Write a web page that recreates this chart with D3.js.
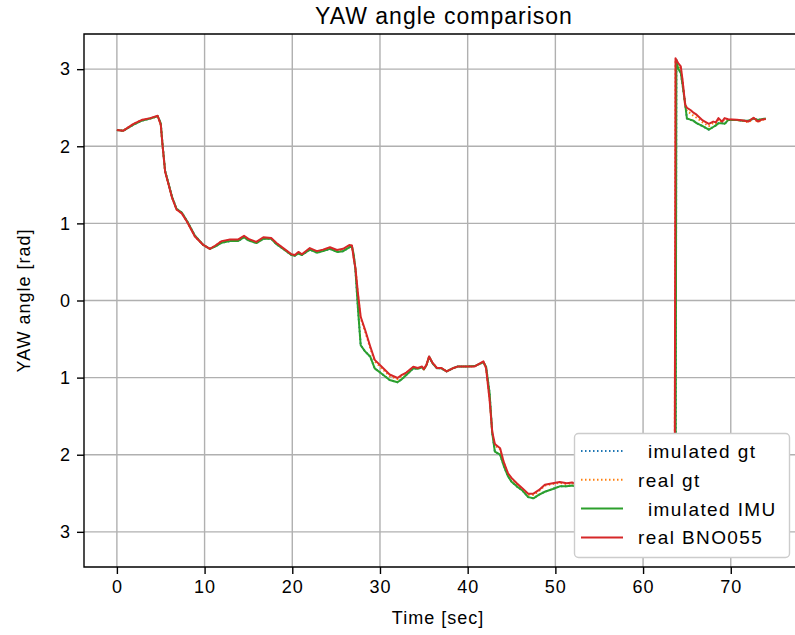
<!DOCTYPE html>
<html>
<head>
<meta charset="utf-8">
<script src="https://cdn.jsdelivr.net/npm/d3@7"></script>
<style>
    body { margin: 0; background: #fff; }
    svg { display: block; font-family: "Liberation Sans", Arial, sans-serif; }
</style>
</head>
<body>
<svg id="chart" width="795" height="635"></svg>
<script>
// time stamps [sec], shared by all four series
var time = [0, 0.7, 1.9, 2.8, 3.8, 4.65, 5.0, 5.2, 5.5, 5.9, 6.3, 6.8, 7.4, 8.0, 8.9, 9.85, 10.6, 11.2, 11.95, 12.9,
    13.8, 14.5, 15.0, 15.9, 16.7, 17.6, 18.2, 19.2, 19.9, 20.3, 20.7, 21.1, 22.0, 22.8, 23.5, 24.3, 25.1, 25.8, 26.5, 26.8,
    27.0, 27.2, 27.5, 27.8, 28.3, 28.9, 29.4, 30.2, 31.1, 32.0, 32.5, 33.0, 33.8, 34.3, 34.8, 35.0, 35.3, 35.6, 36.0, 36.5,
    37.0, 37.6, 38.4, 38.9, 39.9, 40.8, 41.8, 42.1, 42.5, 42.8, 43.1, 43.7, 44.1, 44.6, 45.0, 45.6, 46.2, 46.9, 47.5, 48.1,
    48.8, 49.7, 50.5, 51.3, 51.9, 53, 55, 57, 59, 61, 62.5, 63.6, 63.7, 63.8, 64.0, 64.3, 64.5, 64.8, 65.0, 65.4,
    65.7, 66.1, 66.8, 67.5, 68.0, 68.3, 68.6, 69.0, 69.3, 69.7, 70.7, 71.4, 72.0, 72.6, 73.1, 73.5, 74.0];

var simulatedGt = [2.21, 2.20, 2.28, 2.33, 2.36, 2.39, 2.30, 2.03, 1.68, 1.51, 1.34, 1.19, 1.14, 1.03, 0.84, 0.72, 0.67, 0.70, 0.75, 0.77,
    0.77, 0.82, 0.78, 0.745, 0.80, 0.80, 0.73, 0.65, 0.59, 0.58, 0.61, 0.59, 0.66, 0.62, 0.64, 0.67, 0.63, 0.64, 0.69, 0.70,
    0.60, 0.40, -0.12, -0.58, -0.66, -0.73, -0.88, -0.95, -1.03, -1.06, -1.02, -0.965, -0.88, -0.885, -0.865, -0.895, -0.84, -0.73, -0.815, -0.88,
    -0.88, -0.92, -0.875, -0.855, -0.855, -0.85, -0.80, -0.86, -1.20, -1.72, -1.96, -2.0, -2.14, -2.28, -2.35, -2.41, -2.46, -2.55, -2.565, -2.52,
    -2.48, -2.445, -2.41, -2.41, -2.40, -2.43, -2.5, -2.65, -2.8, -2.95, -3.05, -3.10, -3.13, 3.12, 3.01, 2.95, 2.80, 2.55, 2.36, 2.345,
    2.335, 2.30, 2.26, 2.215, 2.25, 2.27, 2.30, 2.30, 2.29, 2.34, 2.34, 2.33, 2.33, 2.36, 2.34, 2.35, 2.36];

var realGt = [2.21, 2.20, 2.29, 2.34, 2.36, 2.39, 2.28, 2.02, 1.67, 1.50, 1.33, 1.18, 1.13, 1.02, 0.83, 0.72, 0.67, 0.71, 0.77, 0.78,
    0.78, 0.83, 0.79, 0.75, 0.81, 0.80, 0.74, 0.655, 0.595, 0.585, 0.62, 0.595, 0.67, 0.63, 0.65, 0.68, 0.645, 0.66, 0.71, 0.71,
    0.56, 0.43, 0.06, -0.23, -0.40, -0.62, -0.79, -0.88, -0.98, -1.02, -0.975, -0.94, -0.865, -0.88, -0.86, -0.89, -0.835, -0.73, -0.81, -0.875,
    -0.875, -0.92, -0.875, -0.855, -0.855, -0.855, -0.795, -0.88, -1.27, -1.71, -1.88, -1.93, -2.10, -2.25, -2.31, -2.38, -2.44, -2.52, -2.52, -2.475,
    -2.40, -2.38, -2.365, -2.38, -2.37, -2.41, -2.46, -2.61, -2.76, -2.91, -3.01, -3.11, 3.13, 3.11, 3.06, 3.00, 2.84, 2.53, 2.45, 2.43,
    2.40, 2.37, 2.31, 2.26, 2.30, 2.29, 2.35, 2.31, 2.35, 2.345, 2.34, 2.33, 2.31, 2.36, 2.31, 2.34, 2.35];

var simulatedImu = [2.21, 2.20, 2.28, 2.33, 2.36, 2.39, 2.30, 2.03, 1.68, 1.51, 1.34, 1.19, 1.14, 1.03, 0.84, 0.72, 0.67, 0.70, 0.75, 0.77,
    0.77, 0.82, 0.78, 0.745, 0.80, 0.80, 0.73, 0.65, 0.59, 0.58, 0.61, 0.59, 0.66, 0.62, 0.64, 0.67, 0.63, 0.64, 0.69, 0.70,
    0.60, 0.40, -0.12, -0.58, -0.66, -0.73, -0.88, -0.95, -1.03, -1.06, -1.02, -0.965, -0.88, -0.885, -0.865, -0.895, -0.84, -0.73, -0.815, -0.88,
    -0.88, -0.92, -0.875, -0.855, -0.855, -0.85, -0.80, -0.86, -1.20, -1.72, -1.96, -2.0, -2.14, -2.28, -2.35, -2.41, -2.46, -2.55, -2.565, -2.52,
    -2.48, -2.445, -2.41, -2.41, -2.40, -2.43, -2.5, -2.65, -2.8, -2.95, -3.05, -3.10, -3.13, 3.12, 3.01, 2.95, 2.80, 2.55, 2.36, 2.345,
    2.335, 2.30, 2.26, 2.215, 2.25, 2.27, 2.30, 2.30, 2.29, 2.34, 2.34, 2.33, 2.33, 2.36, 2.34, 2.35, 2.36];

var realBno = [2.21, 2.20, 2.29, 2.34, 2.365, 2.395, 2.28, 2.02, 1.67, 1.50, 1.33, 1.18, 1.13, 1.02, 0.83, 0.72, 0.67, 0.71, 0.77, 0.79,
    0.79, 0.84, 0.80, 0.76, 0.82, 0.81, 0.745, 0.66, 0.60, 0.59, 0.63, 0.60, 0.68, 0.64, 0.66, 0.69, 0.655, 0.67, 0.72, 0.715,
    0.55, 0.42, 0.08, -0.21, -0.38, -0.60, -0.77, -0.86, -0.96, -1.005, -0.965, -0.935, -0.86, -0.875, -0.855, -0.89, -0.835, -0.725, -0.81, -0.875,
    -0.875, -0.92, -0.875, -0.855, -0.855, -0.855, -0.79, -0.88, -1.29, -1.70, -1.86, -1.915, -2.09, -2.24, -2.30, -2.37, -2.43, -2.505, -2.505, -2.46,
    -2.39, -2.37, -2.355, -2.37, -2.36, -2.40, -2.45, -2.6, -2.75, -2.9, -3.0, -3.12, 3.14, 3.12, 3.08, 3.035, 2.86, 2.54, 2.50, 2.47,
    2.44, 2.41, 2.335, 2.29, 2.32, 2.31, 2.365, 2.32, 2.365, 2.35, 2.345, 2.335, 2.32, 2.37, 2.32, 2.345, 2.355];

var seriesNames = ["imulated gt", "real gt", "imulated IMU", "real BNO055"];
var seriesColors = ["#1f77b4", "#ff7f0e", "#2ca02c", "#d62728"];
var seriesDashes = ["1.5,2.5", "1.5,2.5", null, null];
var seriesValues = [simulatedGt, realGt, simulatedImu, realBno];

var xTicks = [0, 10, 20, 30, 40, 50, 60, 70];
var yTicks = [-3, -2, -1, 0, 1, 2, 3];

var margin = {left: 84, top: 34, bottom: 567, right: 807.5};

var svg = d3.select("#chart");

var x = d3.scaleLinear()
    .domain([-3.75, 78.75])
    .range([margin.left, margin.right]);

var y = d3.scaleLinear()
    .domain([-3.456, 3.456])
    .range([margin.bottom, margin.top]);

svg.append("defs")
    .append("clipPath")
        .attr("id", "plot-clip")
    .append("rect")
        .attr("x", margin.left)
        .attr("y", margin.top)
        .attr("width", margin.right - margin.left)
        .attr("height", margin.bottom - margin.top);

// grid
var grid = svg.append("g").attr("class", "grid");

grid.selectAll("line.gx")
        .data(xTicks)
        .enter()
    .append("line")
        .attr("x1", function(d) {return x(d);})
        .attr("x2", function(d) {return x(d);})
        .attr("y1", margin.top)
        .attr("y2", margin.bottom)
        .attr("stroke", "#b0b0b0")
        .attr("stroke-width", 1.4);

grid.selectAll("line.gy")
        .data(yTicks)
        .enter()
    .append("line")
        .attr("x1", margin.left)
        .attr("x2", margin.right)
        .attr("y1", function(d) {return y(d);})
        .attr("y2", function(d) {return y(d);})
        .attr("stroke", "#b0b0b0")
        .attr("stroke-width", 1.4);

// data lines
var line = d3.line()
    .x(function(d, i) {return x(time[i]);})
    .y(function(d) {return y(d);});

svg.append("g")
        .attr("clip-path", "url(#plot-clip)")
    .selectAll("path")
        .data(seriesValues)
        .enter()
    .append("path")
        .attr("d", function(d) {return line(d);})
        .attr("fill", "none")
        .attr("stroke", function(d, i) {return seriesColors[i];})
        .attr("stroke-width", 2)
        .attr("stroke-dasharray", function(d, i) {return seriesDashes[i];})
        .attr("stroke-linejoin", "round");

// axes
var xAxis = d3.axisBottom(x)
    .tickValues(xTicks)
    .tickSize(7)
    .tickPadding(6)
    .tickFormat(d3.format("d"));

var yAxis = d3.axisLeft(y)
    .tickValues(yTicks)
    .tickSize(7)
    .tickPadding(6)
    .tickFormat(function(d) {return String(Math.abs(d));}); // minus signs are not shown in the figure

var gx = svg.append("g")
    .attr("transform", "translate(0," + margin.bottom + ")")
    .call(xAxis);

var gy = svg.append("g")
    .attr("transform", "translate(" + margin.left + ",0)")
    .call(yAxis);

[gx, gy].forEach(function(g) {
    g.select(".domain").remove();
    g.selectAll(".tick line").attr("stroke", "#000").attr("stroke-width", 1.4);
    g.selectAll(".tick text")
        .attr("fill", "#000")
        .style("font-size", "18px")
        .style("font-family", "Liberation Sans, Arial, sans-serif")
        .style("letter-spacing", "1px");
});

// spines: left, bottom, top (right one is outside the picture)
svg.append("path")
    .attr("d", "M" + margin.right + "," + margin.top + "H" + margin.left + "V" + margin.bottom + "H" + margin.right)
    .attr("fill", "none")
    .attr("stroke", "#000")
    .attr("stroke-width", 1.4);

// title and labels
svg.append("text")
    .attr("x", 444)
    .attr("y", 24)
    .attr("text-anchor", "middle")
    .style("font-size", "23px")
    .style("letter-spacing", "1px")
    .text("YAW angle comparison");

svg.append("text")
    .attr("x", 438)
    .attr("y", 624)
    .attr("text-anchor", "middle")
    .style("font-size", "18px")
    .style("letter-spacing", "1px")
    .text("Time [sec]");

svg.append("text")
    .attr("transform", "translate(30," + ((margin.top + margin.bottom) / 2) + ") rotate(-90)")
    .attr("text-anchor", "middle")
    .style("font-size", "18px")
    .style("letter-spacing", "1px")
    .text("YAW angle [rad]");

// legend
var legend = svg.append("g").attr("transform", "translate(574,433)");

legend.append("rect")
    .attr("x", 0.5)
    .attr("y", 0.5)
    .attr("width", 215)
    .attr("height", 124)
    .attr("rx", 4)
    .attr("fill", "#fff")
    .attr("stroke", "#cccccc")
    .attr("stroke-width", 1.4);

var rows = legend.selectAll("g.row")
        .data(seriesNames)
        .enter()
    .append("g")
        .attr("class", "row")
        .attr("transform", function(d, i) {return "translate(0," + (18 + i * 28.8) + ")";});

rows.append("line")
    .attr("x1", 7)
    .attr("x2", 49)
    .attr("y1", 0)
    .attr("y2", 0)
    .attr("stroke", function(d, i) {return seriesColors[i];})
    .attr("stroke-width", 2)
    .attr("stroke-dasharray", function(d, i) {return seriesDashes[i];});

rows.append("text")
    .attr("x", function(d) {return d.indexOf("imulated") === 0 ? 74 : 64;})
    .attr("y", 7)
    .style("font-size", "19px")
    .style("letter-spacing", "1.4px")
    .text(function(d) {return d;});
</script>
</body>
</html>
